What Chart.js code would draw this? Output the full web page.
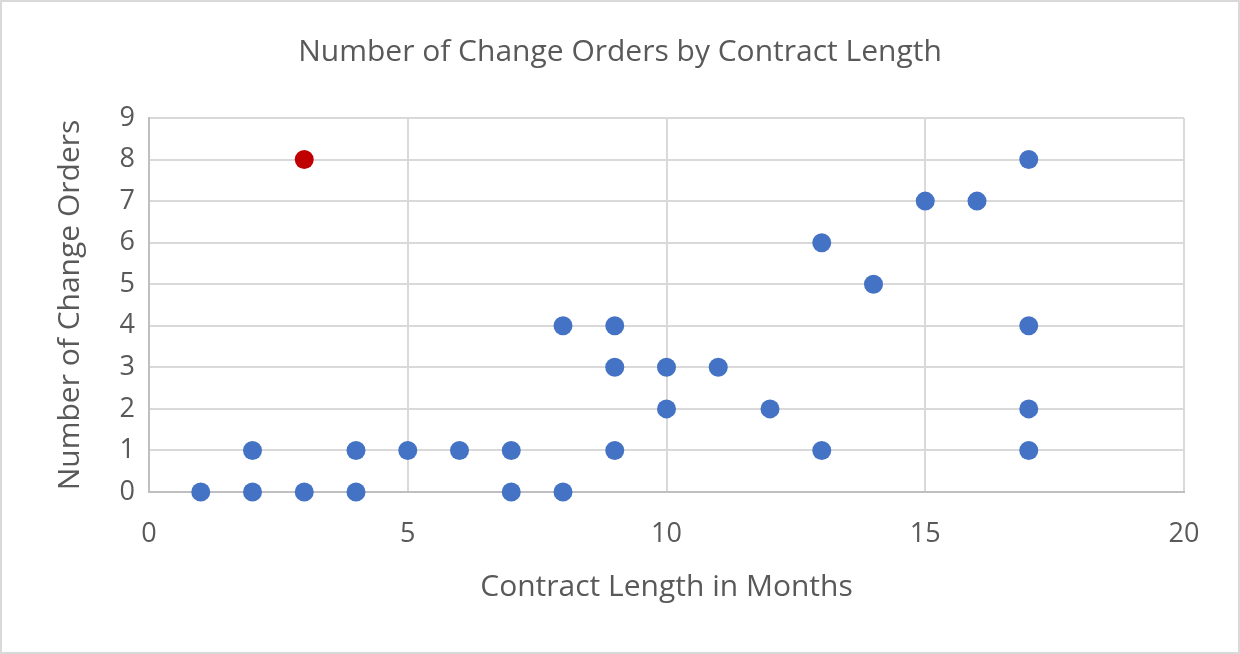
<!DOCTYPE html>
<html>
<head>
<meta charset="utf-8">
<script src="https://cdn.jsdelivr.net/npm/chart.js@4"></script>
<style>
  html, body { margin: 0; padding: 0; background: #fff; }
  #wrap { width: 1240px; height: 654px; }
</style>
</head>
<body>
<div id="wrap"><canvas id="chart" width="1240" height="654"></canvas></div>
<script>
// Data
const contractMonths = [1, 2, 3, 4, 7, 8, 2, 4, 5, 6, 7, 9, 13, 17, 10, 12, 17, 9, 10, 11, 8, 9, 17, 14, 13, 15, 16, 17];
const changeOrders   = [0, 0, 0, 0, 0, 0, 1, 1, 1, 1, 1, 1, 1, 1, 2, 2, 2, 3, 3, 3, 4, 4, 4, 5, 6, 7, 7, 8];
// the outlier point shown in red
const outlierMonths = [3];
const outlierOrders = [8];

const xTicks = [0, 5, 10, 15, 20];

const toPoints = (xs, ys) => xs.map((x, i) => ({ x: x, y: ys[i] }));

const textColor = '#595959';
const fontFamily = '"Open Sans", "Noto Sans", sans-serif';

// Outer chart border like the spreadsheet frame
const frame = {
    id: 'frame',
    beforeDraw(chart) {
        const c = chart.ctx;
        c.save();
        c.fillStyle = '#fff';
        c.fillRect(0, 0, chart.width, chart.height);
        c.strokeStyle = '#d9d9d9';
        c.lineWidth = 2;
        c.strokeRect(1, 1, chart.width - 2, chart.height - 2);
        c.restore();
    }
};

document.addEventListener('DOMContentLoaded', () => {
    const ctx = document.getElementById('chart').getContext('2d');
    new Chart(ctx, {
        type: 'scatter',
        data: {
            datasets: [{
                label: 'Change Orders',
                data: toPoints(contractMonths, changeOrders),
                backgroundColor: '#4472C4',
                borderWidth: 0,
                pointRadius: 9.5,
                clip: false
            }, {
                label: 'Outlier',
                data: toPoints(outlierMonths, outlierOrders),
                backgroundColor: '#C00000',
                borderWidth: 0,
                pointRadius: 9.5,
                clip: false
            }]
        },
        plugins: [frame],
        options: {
            responsive: false,
            animation: false,
            layout: { padding: { left: 0, right: 0, top: 0, bottom: 45 } },
            plugins: {
                legend: { display: false },
                tooltip: { enabled: false },
                title: {
                    display: true,
                    text: 'Number of Change Orders by Contract Length',
                    color: textColor,
                    font: { family: fontFamily, size: 30, weight: 'normal' },
                    padding: { top: 34, bottom: 48 }
                }
            },
            scales: {
                x: {
                    type: 'linear',
                    min: 0,
                    max: 20,
                    afterBuildTicks: (axis) => { axis.ticks = xTicks.map(v => ({ value: v })); },
                    afterFit: (axis) => { axis.height = 117; },
                    grid: { color: '#d9d9d9', lineWidth: 2, drawTicks: false },
                    border: { color: '#bfbfbf', width: 2 },
                    ticks: { color: textColor, padding: 26, font: { family: fontFamily, size: 27 } },
                    title: {
                        display: true,
                        text: 'Contract Length in Months',
                        color: textColor,
                        font: { family: fontFamily, size: 30 },
                        padding: { top: 4, bottom: 4 }
                    }
                },
                y: {
                    min: 0,
                    max: 9,
                    afterFit: (axis) => { axis.width = 149; },
                    grid: { color: '#d9d9d9', lineWidth: 2, drawTicks: false },
                    border: { color: '#bfbfbf', width: 2 },
                    ticks: { stepSize: 1, color: textColor, padding: 14, font: { family: fontFamily, size: 27 } },
                    title: {
                        display: true,
                        text: 'Number of Change Orders',
                        color: textColor,
                        font: { family: fontFamily, size: 30 },
                        padding: { top: 52, bottom: 0 }
                    }
                },
                // empty right-hand gutter so the title centres on the whole chart
                gutter: {
                    type: 'linear',
                    position: 'right',
                    min: 0,
                    max: 9,
                    afterFit: (axis) => { axis.width = 56; },
                    grid: { display: false },
                    border: { display: false },
                    ticks: { display: false }
                }
            }
        }
    });
});
</script>
</body>
</html>
